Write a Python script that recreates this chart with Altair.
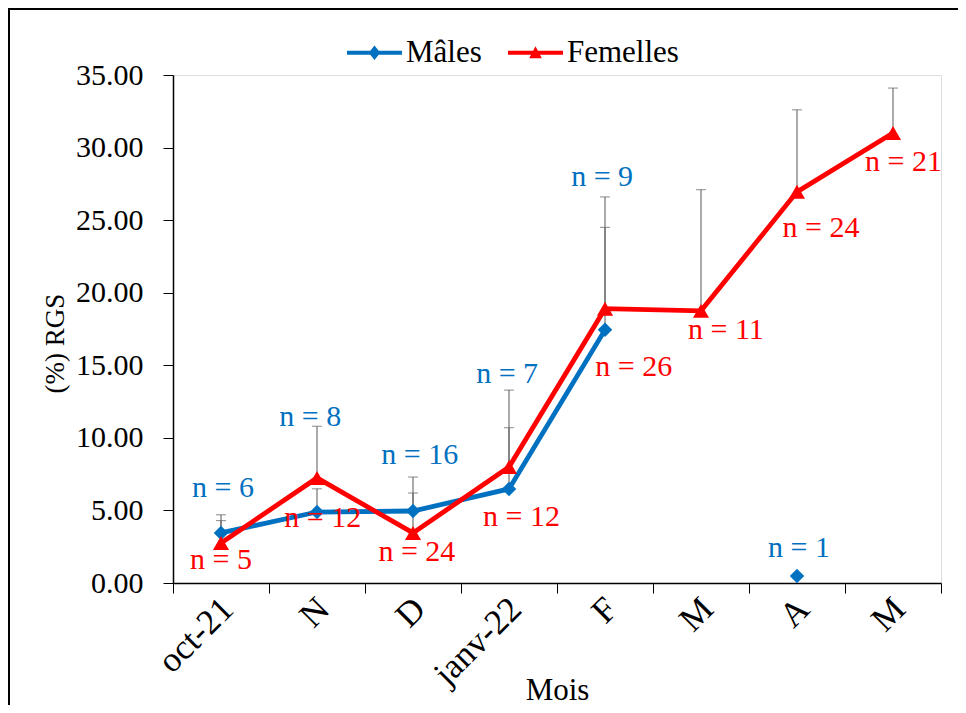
import altair as alt
import pandas as pd

# ---------------- data ----------------
months = ["oct-21", "N", "D", "janv-22", "F", "M_1", "A", "M_2"]

males = [3.45, 4.89, 4.96, 6.48, 17.44, None, 0.48, None]
males_sd = [1.25, 1.6, 2.34, 4.22, 7.06, None, None, None]

females = [2.75, 7.24, 3.45, 7.99, 18.9, 18.75, 26.95, 31.0]
females_sd = [1.55, 3.56, 2.75, 5.3, 7.7, 8.35, 5.65, 3.1]

male_n = ["n = 6", "n = 8", "n = 16", "n = 7", "n = 9", "n = 1"]
male_n_x = [0.52, 1.43, 2.57, 3.48, 4.47, 6.52]
male_n_y = [6.55, 11.44, 8.82, 14.40, 27.98, 2.41]

female_n = ["n = 5", "n = 12", "n = 24", "n = 12", "n = 26", "n = 11", "n = 24", "n = 21"]
female_n_x = [0.50, 1.56, 2.54, 3.63, 4.80, 5.76, 6.75, 7.61]
female_n_y = [1.59, 4.48, 2.14, 4.55, 14.89, 17.44, 24.47, 29.01]

series_names = ["Mâles", "Femelles"]

BLUE = "#0070C0"
RED = "#FF0000"
GRAY = "#666666"
FONT = "Liberation Serif"

# ---------------- tables ----------------
def build(vals, sds):
    rows = []
    seg = 0
    prev_none = True
    for i, (m, v, s) in enumerate(zip(months, vals, sds)):
        if v is None:
            prev_none = True
            continue
        if prev_none:
            seg += 1
        prev_none = False
        rows.append({"cat": m, "idx": i, "val": v, "sd": s, "seg": seg})
    return pd.DataFrame(rows)

dm = build(males, males_sd)
df = build(females, females_sd)
dm_err = dm.dropna(subset=["sd"]).copy()
dm_err["up"] = dm_err["val"] + dm_err["sd"]
df_err = df.dropna(subset=["sd"]).copy()
df_err["up"] = df_err["val"] + df_err["sd"]

lab_m = pd.DataFrame({"t": male_n, "x": male_n_x, "y": male_n_y})
lab_f = pd.DataFrame({"t": female_n, "x": female_n_x, "y": female_n_y})

# ---------------- encodings ----------------
x_enc = alt.X(
    "cat:N",
    sort=months,
    scale=alt.Scale(type="band", domain=months, paddingInner=0, paddingOuter=0),
    axis=alt.Axis(
        title="Mois",
        labelExpr="split(datum.label, '_')[0]",
        labelAngle=315,
        labelAlign="right",
        labelBaseline="middle",
        labelPadding=10,
        labelOffset=6,
        labelFont=FONT,
        labelFontSize=35,
        labelColor="black",
        tickBand="extent",
        tickSize=10,
        tickColor="black",
        domainColor="black",
        domainWidth=1.5,
        titleFont=FONT,
        titleFontSize=31,
        titleFontWeight="normal",
        titleColor="black",
        titleBaseline="middle",
        titleY=107,
        grid=False,
    ),
)

y_scale = alt.Scale(domain=[0, 35], nice=False, zero=True)
y_axis = alt.Axis(
    title="(%) RGS",
    values=[0, 5, 10, 15, 20, 25, 30, 35],
    format=".2f",
    labelFont=FONT,
    labelFontSize=30,
    labelColor="black",
    labelPadding=20,
    tickSize=10,
    tickColor="black",
    domainColor="black",
    domainWidth=1.5,
    titleFont=FONT,
    titleFontSize=27,
    titleFontWeight="normal",
    titleColor="black",
    titleAlign="center",
    titleBaseline="middle",
    titleX=-118,
    titleY=268,
    grid=False,
)


def y_enc(field):
    return alt.Y(field, scale=y_scale, axis=y_axis)


def err_layers(d):
    base = alt.Chart(d)
    rule = base.mark_rule(color=GRAY, strokeWidth=1.1).encode(
        x=x_enc, y=y_enc("val:Q"), y2="up:Q"
    )
    cap = base.mark_tick(color=GRAY, thickness=1.1, size=10, orient="horizontal").encode(
        x=x_enc, y=y_enc("up:Q")
    )
    return [rule, cap]


def series_layers(d, color, shape, size):
    base = alt.Chart(d)
    line = base.mark_line(color=color, strokeWidth=4.8).encode(
        x=x_enc, y=y_enc("val:Q"), detail="seg:N", order="idx:Q"
    )
    pts = base.mark_point(color=color, filled=True, shape=shape, size=size, opacity=1).encode(
        x=x_enc, y=y_enc("val:Q")
    )
    return [line, pts]


frame = alt.Chart(pd.DataFrame({"a": [0]})).mark_rect(
    fill="transparent", stroke="black", strokeWidth=2
).encode(
    x=alt.value(-164), x2=alt.value(900), y=alt.value(-66), y2=alt.value(700)
)

PATH_M = "M-1,-0.075L1,-0.075L1,0.075L-1,0.075Z M0,-0.26L0.21,0L0,0.26L-0.21,0Z"
PATH_F = "M-1,-0.075L1,-0.075L1,0.075L-1,0.075Z M0,-0.24L0.23,0.2L-0.23,0.2Z"

leg_props = dict(
    orient="none",
    legendX=174,
    legendY=-50,
    direction="horizontal",
    title=None,
    labelFont=FONT,
    labelFontSize=31,
    labelColor="black",
    symbolSize=3025,
    symbolStrokeWidth=0,
    columnPadding=26,
    labelOffset=4,
    padding=0,
)

legend_layer = alt.Chart(
    pd.DataFrame({"series": series_names})
).transform_filter("false").mark_point(filled=True, opacity=1).encode(
    shape=alt.Shape(
        "series:N",
        scale=alt.Scale(domain=series_names, range=[PATH_M, PATH_F]),
        legend=alt.Legend(**leg_props),
    ),
    color=alt.Color(
        "series:N",
        scale=alt.Scale(domain=series_names, range=[BLUE, RED]),
        legend=alt.Legend(**leg_props),
    ),
)

main = alt.layer(
    frame,
    *err_layers(dm_err),
    *err_layers(df_err),
    *series_layers(dm, BLUE, "diamond", 210),
    *series_layers(df, RED, "triangle-up", 260),
    legend_layer,
)

ann_x = alt.X("x:Q", scale=alt.Scale(domain=[0, 8], nice=False, zero=False), axis=None)
ann_y = alt.Y("y:Q", scale=y_scale, axis=y_axis)

ann_m = alt.Chart(lab_m).mark_text(
    font=FONT, fontSize=30, color=BLUE, align="center", baseline="middle"
).encode(x=ann_x, y=ann_y, text="t:N")
ann_f = alt.Chart(lab_f).mark_text(
    font=FONT, fontSize=30, color=RED, align="center", baseline="middle"
).encode(x=ann_x, y=ann_y, text="t:N")

ann = alt.layer(ann_m, ann_f)

chart = alt.layer(main, ann).resolve_scale(x="independent").properties(
    width=768,
    height=508,
    autosize=alt.AutoSizeParams(type="none"),
    padding={"left": 165, "top": 67, "right": 17, "bottom": 122},
).configure_view(strokeWidth=0, stroke="transparent").configure(background="white")

chart.save("out.html", embed_options={"renderer": "svg", "actions": False})
